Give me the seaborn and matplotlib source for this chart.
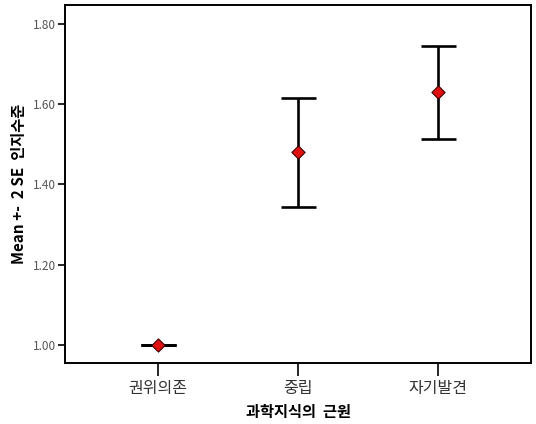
import matplotlib
matplotlib.use("Agg")
import matplotlib.pyplot as plt
import seaborn as sns
import pandas as pd

# Mean cognition level with +/- 2 SE intervals by source of scientific knowledge
categories = ["권위의존", "중립", "자기발견"]
means = [1.00, 1.48, 1.63]
lower = [1.00, 1.343, 1.513]
upper = [1.00, 1.615, 1.745]
yticks = [1.00, 1.20, 1.40, 1.60, 1.80]

sns.set_theme(style="white")
plt.rcParams["font.family"] = ["Noto Sans CJK KR", "DejaVu Sans"]

df = pd.DataFrame({"source": categories, "mean": means, "lo": lower, "hi": upper})
df["pos"] = range(len(df))

fig = plt.figure(figsize=(5.36, 4.24), dpi=100)
ax = fig.add_axes([0.1222, 0.1439, 0.8680, 0.8443])

# error bars with caps
ax.errorbar(df["pos"], df["mean"],
            yerr=[df["mean"] - df["lo"], df["hi"] - df["mean"]],
            fmt="none", ecolor="black", elinewidth=1.9, capsize=12.6,
            capthick=1.9, zorder=2)
# a zero-width interval still shows its cap line
half_cap = [0.125 if (h - l) < 1e-6 else 0 for h, l in zip(df["hi"], df["lo"])]
ax.errorbar(df["pos"], df["mean"], xerr=[half_cap, half_cap],
            fmt="none", ecolor="black", elinewidth=1.9, zorder=2)

sns.scatterplot(data=df, x="pos", y="mean", marker="D", s=45,
                color="#e01010", edgecolor="#400000", linewidth=0.8,
                zorder=3, ax=ax, legend=False)

ax.set_xlim(-0.664, 2.664)
ax.set_ylim(0.955, 1.847)
ax.set_xticks(df["pos"])
ax.set_xticklabels(categories, fontsize=11.5, color="#333333")
ax.set_yticks(yticks)
ax.set_yticklabels([f"{v:.2f}" for v in yticks], fontsize=8.5, color="#555555")

ax.tick_params(axis="both", direction="out", length=5, width=1.2,
               color="black", left=True, bottom=True)
ax.tick_params(axis="x", length=9, pad=3)
ax.tick_params(axis="y", pad=2)

for sp in ax.spines.values():
    sp.set_color("black")
    sp.set_linewidth(1.4)

ax.set_xlabel("과학지식의  근원", fontsize=11, fontweight="bold", labelpad=5, color="black")
ax.set_ylabel("Mean +-  2 SE  인지수준", fontsize=11, fontweight="bold", labelpad=4, color="black")

fig.savefig("out.png", dpi=100, facecolor="white")
